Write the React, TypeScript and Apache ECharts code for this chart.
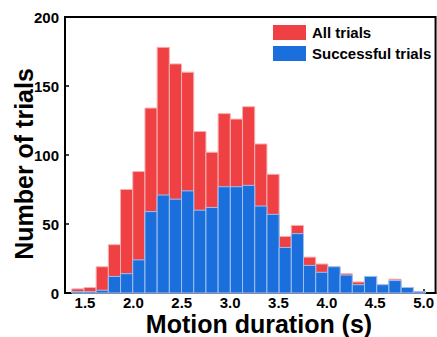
import React, { useEffect, useRef } from "react";
import * as echarts from "echarts";

// Histogram bins (seconds)
const binStart = 1.363;
const binWidth = 0.1261;
const allTrials = [3, 4, 19, 35, 75, 88, 134, 178, 166, 160, 117, 102, 130, 126, 135, 108, 86, 41, 49, 26, 21, 19, 14, 8, 12, 6, 10, 4, 1];
const successfulTrials = [1, 1, 2, 12, 14, 24, 59, 71, 68, 74, 60, 62, 77, 77, 78, 63, 57, 33, 43, 20, 15, 19, 13, 6, 12, 6, 9, 4, 1];
const xTicks = [1.5, 2.0, 2.5, 3.0, 3.5, 4.0, 4.5, 5.0];
const seriesNames = ["All trials", "Successful trials"];

const FONT = "Liberation Sans, Arial, Helvetica, sans-serif";
const RED = "#EF4144";
const BLUE = "#1B6FDC";

function toBins(values: number[]) {
  return values.map((v, i) => [binStart + i * binWidth, binStart + (i + 1) * binWidth, v]);
}

function makeRender(stroke: string, fill: string) {
  return (params: any, api: any) => {
    const x0 = api.value(0);
    const x1 = api.value(1);
    const y = api.value(2);
    const p0 = api.coord([x0, y]);
    const p1 = api.coord([x1, 0]);
    return {
      type: "rect",
      shape: { x: p0[0], y: p0[1], width: p1[0] - p0[0], height: p1[1] - p0[1] },
      style: { fill, stroke, lineWidth: 1 },
    };
  };
}

export default function App() {
  const ref = useRef<HTMLDivElement>(null);
  useEffect(() => {
    if (!ref.current) return;
    const chart = echarts.init(ref.current, undefined, { renderer: "svg" });
    chart.setOption({
      animation: false,
      backgroundColor: "#fff",
      grid: { left: 65, right: 1, top: 17, bottom: 44, show: true, borderColor: "#000", borderWidth: 2, backgroundColor: "transparent" },
      legend: {
        orient: "vertical",
        left: 273,
        top: 25,
        itemWidth: 33,
        itemHeight: 15,
        itemGap: 6,
        padding: 0,
        icon: "rect",
        data: seriesNames,
        textStyle: { fontFamily: FONT, fontWeight: "bold", fontSize: 15, color: "#000", padding: [0, 0, 0, 1] },
      },
      xAxis: {
        type: "value",
        min: 1.293,
        max: 5.124,
        splitLine: { show: false },
        axisLine: { show: true, lineStyle: { color: "#000", width: 2 } },
        axisTick: { show: true, inside: true, length: 4, customValues: xTicks, lineStyle: { color: "#000", width: 1.5 } },
        axisLabel: {
          customValues: xTicks,
          formatter: (v: number) => v.toFixed(1),
          fontFamily: FONT,
          fontWeight: "bold",
          fontSize: 15,
          lineHeight: 15,
          color: "#000",
          margin: 2,
        },
      },
      yAxis: {
        type: "value",
        min: 0,
        max: 200,
        interval: 50,
        splitLine: { show: false },
        axisLine: { show: true, lineStyle: { color: "#000", width: 2 } },
        axisTick: { show: true, inside: true, length: 4, lineStyle: { color: "#000", width: 1.5 } },
        axisLabel: { fontFamily: FONT, fontWeight: "bold", fontSize: 15, color: "#000", margin: 6 },
      },
      graphic: [
        {
          type: "text",
          x: 24,
          y: 164,
          rotation: Math.PI / 2,
          style: { text: "Number of trials", fontFamily: FONT, fontWeight: "bold", fontSize: 25, fill: "#000", textAlign: "center", textVerticalAlign: "middle" },
        },
        {
          type: "text",
          x: 259,
          y: 324,
          style: { text: "Motion duration (s)", fontFamily: FONT, fontWeight: "bold", fontSize: 25, fill: "#000", textAlign: "center", textVerticalAlign: "middle" },
        },
      ],
      series: [
        {
          name: seriesNames[0],
          type: "custom",
          renderItem: makeRender("#F6B0B0", RED),
          itemStyle: { color: RED },
          encode: { x: [0, 1], y: 2 },
          data: toBins(allTrials),
          z: 1,
        },
        {
          name: seriesNames[1],
          type: "custom",
          renderItem: makeRender("#9EC0F0", BLUE),
          itemStyle: { color: BLUE },
          encode: { x: [0, 1], y: 2 },
          data: toBins(successfulTrials),
          z: 2,
        },
      ],
    });
    return () => chart.dispose();
  }, []);
  return <div ref={ref} style={{ position: "absolute", left: 0, top: 0, width: 437, height: 337 }} />;
}
